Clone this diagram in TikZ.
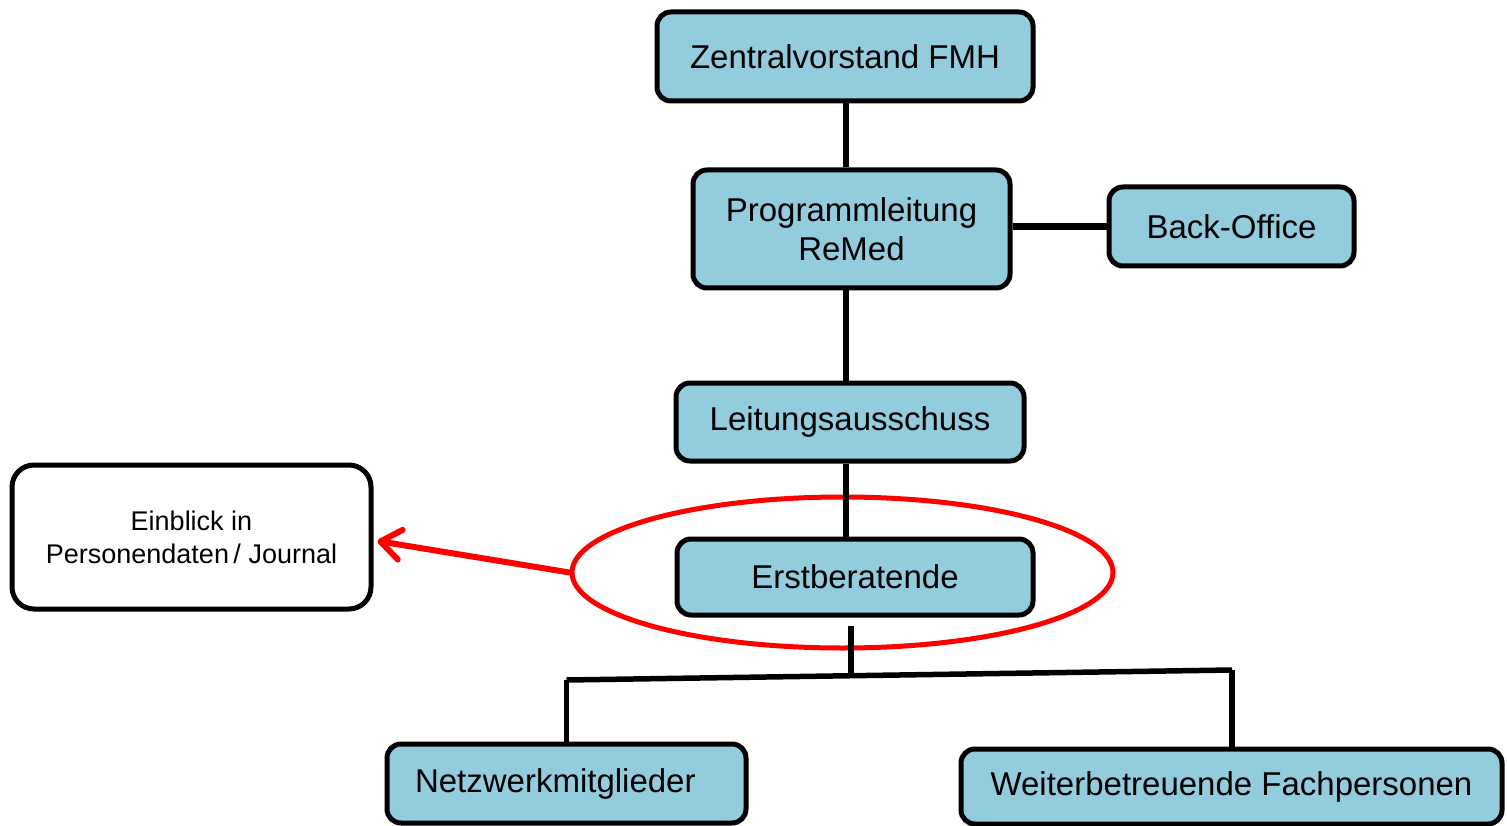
\documentclass[tikz,border=0pt]{standalone}
\usepackage{fontspec}
\setmainfont{Liberation Sans}
\usetikzlibrary{shapes.geometric,arrows.meta}
\definecolor{boxblue}{RGB}{147,205,221}
\begin{document}
\begin{tikzpicture}[x=1pt,y=-1pt,
  orgbox/.style={draw=black, line width=5pt, fill=boxblue, rounded corners=14pt,
    inner sep=0pt, font=\fontsize{33}{39}\selectfont, align=center},
  infobox/.style={draw=black, line width=5pt, fill=white, rounded corners=22pt,
    inner sep=0pt, font=\fontsize{27}{33}\selectfont, align=center},
  conn/.style={draw=black, line width=5.5pt},
  redline/.style={draw=red, line width=5pt}]
\useasboundingbox (0,0) rectangle (1507,826);

\node[orgbox, minimum width=376pt, minimum height=89pt] (zv) at (845,56.5) {Zentralvorstand FMH};
\node[orgbox, minimum width=317pt, minimum height=118pt] (pl) at (851.5,229) {Programmleitung\\ReMed};
\node[orgbox, minimum width=245pt, minimum height=79pt] (bo) at (1231.5,226.5) {Back-Office};
\node[orgbox, minimum width=348pt, minimum height=78pt] (la) at (850,422) {Leitungsausschuss};
\node[orgbox, minimum width=356pt, minimum height=76pt] (eb) at (855,577) {Erstberatende};
\node[orgbox, minimum height=79pt, text width=303pt, inner xsep=28pt, align=left] (nm) at (566.5,783.5) {Netzwerkmitglieder};
\node[orgbox, minimum width=541pt, minimum height=75pt] (wf) at (1231.5,786.5) {Weiterbetreuende Fachpersonen};
\node[infobox, minimum width=359pt, minimum height=144pt] (ein) at (191.5,537) {Einblick in\\Personendaten\,/ Journal};

\node[ellipse, redline, minimum width=541pt, minimum height=151pt, inner sep=0pt] (ell) at (842.5,572.5) {};

\coordinate (spine) at (846,0);
\coordinate (hj) at (851,676);
\coordinate (hl) at (566.5,680);
\coordinate (hr) at (1232,670);

\draw[conn] (zv.south -| spine) -- (pl.north -| spine);
\draw[conn, line width=7pt] (pl.east |- bo.west) -- (bo.west);
\draw[conn] (pl.south -| spine) -- (la.north -| spine);
\draw[conn] (la.south -| spine) -- (eb.north -| spine);
\draw[conn] ([yshift=-8pt]eb.south -| hj) -- (hj);
\draw[conn] (hl) -- (hr);
\draw[conn] (hl) -- (nm.north);
\draw[conn] (hr) -- (hr |- wf.north);

\draw[redline, line width=6pt, line cap=round, -{Straight Barb[length=20pt,width=30pt,round]}] (ell.west) -- ([xshift=4pt,yshift=-4pt]ein.east);
\end{tikzpicture}
\end{document}
